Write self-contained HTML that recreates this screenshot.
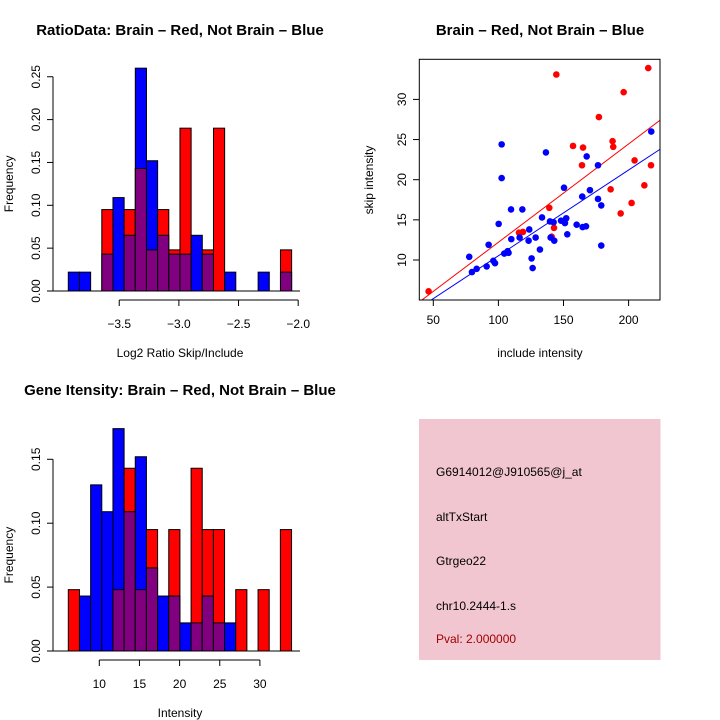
<!DOCTYPE html>
<html><head><meta charset="utf-8"><style>
body{margin:0;background:#fff;}
svg{display:block;font-family:"Liberation Sans",Helvetica,Arial,sans-serif;}
.t{font-size:12px;fill:#000}
.ti{font-size:15px;font-weight:bold;fill:#000}
</style></head><body>
<svg id="s" width="720" height="720" viewBox="0 0 720 720" xmlns="http://www.w3.org/2000/svg">
<text class="ti" x="180" y="35" text-anchor="middle">RatioData: Brain – Red, Not Brain – Blue</text>
<text class="ti" x="540" y="35" text-anchor="middle">Brain – Red, Not Brain – Blue</text>
<text class="ti" x="180" y="395" text-anchor="middle">Gene Itensity: Brain – Red, Not Brain – Blue</text>
<g id="h1"></g>
<g id="h2"></g>
<g id="sc"></g>
<g>
<rect x="419" y="419" width="241.5" height="241" fill="#f2c6d0"/>
<text class="t" x="436" y="476">G6914012@J910565@j_at</text>
<text class="t" x="436" y="521">altTxStart</text>
<text class="t" x="436" y="565">Gtrgeo22</text>
<text class="t" x="436" y="610">chr10.2444-1.s</text>
<text class="t" x="436" y="643" style="fill:#a00000">Pval: 2.000000</text>
</g>
</svg>
<script>
const NS="http://www.w3.org/2000/svg";
// Ratio histogram data
const ratioStart=-3.927, ratioBin=0.0936;
const ratioRed=[0,0,0,0.095,0,0.095,0.143,0.048,0.095,0.048,0.19,0,0.048,0.19,0,0,0,0,0,0.048];
const ratioBlue=[0.022,0.022,0,0.043,0.109,0.065,0.26,0.152,0.065,0.043,0.043,0.065,0.043,0,0.022,0,0,0.022,0,0.022];
const ratioXTicks=[-3.5,-3.0,-2.5,-2.0];
const ratioYTicks=[0,0.05,0.10,0.15,0.20,0.25];
// Intensity histogram data
const intStart=6.14, intBin=1.39;
const intRed=[0.048,0,0,0,0.048,0.143,0.048,0.095,0,0.095,0,0.143,0.095,0.095,0,0.048,0,0.048,0,0.095];
const intBlue=[0,0.043,0.13,0.109,0.174,0.109,0.152,0.065,0.043,0.043,0.022,0.022,0.043,0.022,0.022,0,0,0,0,0];
const intXTicks=[10,15,20,25,30];
const intYTicks=[0,0.05,0.10,0.15];
// Scatter data
const redX=[46.4,144.5,215.1,196.2,177.2,187.7,188.2,157.3,165.0,164.2,204.6,217.2,186.2,202.3,212.1,193.9,139.1,115.8,118.9,140.9,142.7];
const redY=[6.1,33.1,33.9,30.9,27.8,24.8,24.1,24.2,24.0,21.8,22.4,21.8,18.8,17.1,19.3,15.8,16.5,13.4,13.5,12.9,14.0];
const blueX=[102.5,102.5,136.5,167.8,176.5,217.4,150.4,170.3,164.4,176.5,179.0,179.0,109.7,118.4,100.2,133.5,139.6,142.4,148.1,152.1,151.1,160.1,164.7,167.3,123.7,116.3,109.9,123.2,128.6,140.1,142.9,152.9,131.9,92.5,77.6,107.1,104.5,107.8,96.1,97.4,91.0,79.7,83.3,125.5,126.3];
const blueY=[24.4,20.2,23.4,22.9,21.8,26.0,19.0,18.7,17.9,17.6,16.8,11.8,16.3,16.3,14.5,15.3,14.8,14.7,14.9,15.2,14.6,14.4,14.1,14.2,13.8,12.8,12.6,12.4,12.8,12.8,12.4,13.2,11.3,11.9,10.4,11.1,10.8,10.9,9.9,9.6,9.2,8.5,8.9,10.2,9.0];
const redFit=[-0.03,0.1224];
const blueFit=[-0.15,0.1068];
const scXTicks=[50,100,150,200];
const scYTicks=[10,15,20,25,30];

function mk(p,tag,a){const e=document.createElementNS(NS,tag);for(const k in a)e.setAttribute(k,a[k]);p.appendChild(e);return e;}
function txt(p,x,y,s,rot,anchor){const e=mk(p,'text',{x:x,y:y,'text-anchor':anchor||'middle',class:'t'});if(rot)e.setAttribute('transform','rotate(-90 '+x+' '+y+')');e.textContent=s;return e;}

function hist(g,start,bin,red,blue,xT,yT,sx,sy,base,axisY,xlab,fmtX,fmtY){
  const X=v=>68.3+(v-start)*sx, Y=v=>base-v*sy;
  for(let i=0;i<red.length;i++){
    const x0=X(start+i*bin), w=X(start+(i+1)*bin)-x0;
    const r=red[i], b=blue[i], hi=Math.max(r,b), lo=Math.min(r,b);
    if(hi>0){const rc=mk(g,'rect',{x:x0,y:Y(hi),width:w,height:hi*sy,fill:r>=b?'#ff0000':'#0000ff',stroke:'#000','stroke-width':1});
      
      }
    if(lo>0){const pc=mk(g,'rect',{x:x0,y:Y(lo),width:w,height:lo*sy,fill:'#800080',stroke:'#000','stroke-width':1});
      
      }
  }
  mk(g,'line',{x1:52,x2:300,y1:base,y2:base,stroke:'#000'});
  mk(g,'line',{x1:X(xT[0]),x2:X(xT[xT.length-1]),y1:axisY,y2:axisY,stroke:'#000'});
  xT.forEach(v=>{mk(g,'line',{x1:X(v),x2:X(v),y1:axisY,y2:axisY+6,stroke:'#000'});const t=txt(g,X(v),axisY+28,fmtX(v));});
  mk(g,'line',{x1:53,x2:53,y1:Y(yT[0]),y2:Y(yT[yT.length-1]),stroke:'#000'});
  yT.forEach(v=>{mk(g,'line',{x1:53,x2:47,y1:Y(v),y2:Y(v),stroke:'#000'});const t=txt(g,40,Y(v),fmtY(v),true);});
  const xl=txt(g,180,axisY+57,xlab);
  const yl=txt(g,13,(base+Y(yT[yT.length-1]))/2,'Frequency',true);
}
const h1=document.getElementById('h1');
hist(h1,ratioStart,ratioBin,ratioRed,ratioBlue,ratioXTicks,ratioYTicks,119.3,857,291,300,'Log2 Ratio Skip/Include',v=>(v<0?'−':'')+Math.abs(v).toFixed(1),v=>v.toFixed(2));
const h2=document.getElementById('h2');
hist(h2,intStart,intBin,intRed,intBlue,intXTicks,intYTicks,8.03,1278,651,660,'Intensity',v=>String(v),v=>v.toFixed(2));

const sc=document.getElementById('sc');
const SX=v=>433.3+(v-50)*1.302, SY=v=>260-(v-10)*8.03;
const cp=mk(sc,'clipPath',{id:'cl'});mk(cp,'rect',{x:419.3,y:59.3,width:240.7,height:240.7});
const cg=mk(sc,'g',{'clip-path':'url(#cl)'});
[[redFit,'#ff0000','red-fit-line'],[blueFit,'#0000ff','blue-fit-line']].forEach(([f,c,n])=>{
  const l=mk(cg,'line',{x1:SX(30),y1:SY(f[0]+f[1]*30),x2:SX(240),y2:SY(f[0]+f[1]*240),stroke:c,'stroke-width':1});
  
  
});
redX.forEach((x,i)=>{const c=mk(sc,'circle',{cx:SX(x),cy:SY(redY[i]),r:3.3,fill:'#ff0000'});
  
  });
blueX.forEach((x,i)=>{const c=mk(sc,'circle',{cx:SX(x),cy:SY(blueY[i]),r:3.3,fill:'#0000ff'});
  
  });
mk(sc,'rect',{x:419.3,y:59.3,width:240.7,height:240.7,fill:'none',stroke:'#000'});
scXTicks.forEach(v=>{mk(sc,'line',{x1:SX(v),x2:SX(v),y1:300,y2:306,stroke:'#000'});const t=txt(sc,SX(v),324,String(v));});
scYTicks.forEach(v=>{mk(sc,'line',{x1:419.3,x2:413,y1:SY(v),y2:SY(v),stroke:'#000'});const t=txt(sc,406,SY(v),String(v),true);});
const sxl=txt(sc,540,357,'include intensity');
const syl=txt(sc,373,180,'skip intensity',true);
</script>
</body></html>
